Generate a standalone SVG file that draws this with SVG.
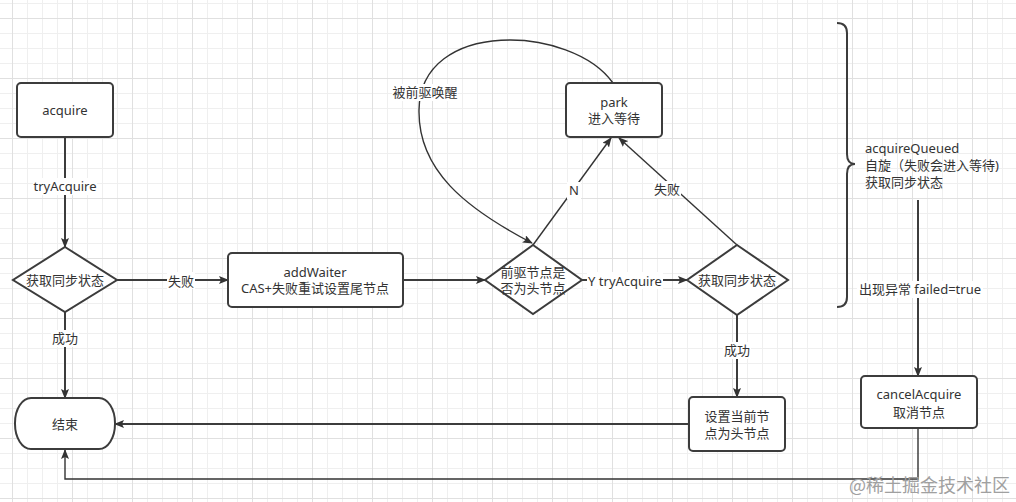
<svg xmlns="http://www.w3.org/2000/svg" width="1016" height="502" viewBox="0 0 1016 502">
<defs>
<pattern id="grid" x="12" y="18" width="60" height="60" patternUnits="userSpaceOnUse">
<path d="M15.5,0V60M30.5,0V60M45.5,0V60M0,15.5H60M0,30.5H60M0,45.5H60" stroke="#efefef" stroke-width="1" fill="none"/>
<path d="M0.5,0V60M0,0.5H60" stroke="#e0e0e0" stroke-width="1" fill="none"/>
</pattern>
<marker id="arr" viewBox="0 0 10 8" refX="9" refY="4" markerWidth="10" markerHeight="8" markerUnits="userSpaceOnUse" orient="auto">
<path d="M0,0 L10,4 L0,8 L2,4 z" fill="#333"/>
</marker>
</defs>
<style>
.node{fill:#fff;stroke:#3c3c3c;stroke-width:2}
.t{font-family:"Noto Sans","Noto Sans CJK SC",sans-serif;font-size:13px;fill:#333;text-anchor:middle;dominant-baseline:central}
.tl{font-family:"Noto Sans","Noto Sans CJK SC",sans-serif;font-size:13px;fill:#333;dominant-baseline:central}
.c{fill:none;stroke:#3c3c3c;stroke-width:2}
.c2{fill:none;stroke:#333;stroke-width:1.4}
.lb{fill:#fff}
</style>
<rect width="1016" height="502" fill="#fff"/>
<rect width="1016" height="502" fill="url(#grid)"/>

<g id="connectors">
<path class="c" d="M65,137V247" marker-end="url(#arr)"/>
<path class="c" d="M117,280H228" marker-end="url(#arr)"/>
<path class="c" d="M65,312V398" marker-end="url(#arr)"/>
<path class="c" d="M403,280H485" marker-end="url(#arr)"/>
<path class="c" d="M582,280H687" marker-end="url(#arr)"/>
<path class="c" d="M737,315V397" marker-end="url(#arr)"/>
<path class="c" d="M689,424H115" marker-end="url(#arr)"/>
<path class="c2" d="M533,245L611,138" marker-end="url(#arr)"/>
<path class="c2" d="M737,245L619,138" marker-end="url(#arr)"/>
<path class="c2" d="M613,83C572,25 420,18 419,110C418,170 465,208 532,243" marker-end="url(#arr)"/>
<path class="c" d="M918,200V376" marker-end="url(#arr)"/>
<path class="c2" d="M918,428V479H65V450" marker-end="url(#arr)"/>
<rect class="lb" x="33" y="178" width="64" height="17"/>
<text class="t" x="65" y="186">tryAcquire</text>
<rect class="lb" x="167" y="272" width="28" height="17"/>
<text class="t" x="181" y="281">失败</text>
<rect class="lb" x="51" y="330" width="28" height="17"/>
<text class="t" x="65" y="338">成功</text>
<rect class="lb" x="587" y="272" width="76" height="17"/>
<text class="t" x="625" y="281">Y tryAcquire</text>
<rect class="lb" x="723" y="342" width="28" height="17"/>
<text class="t" x="737" y="350">成功</text>
<rect class="lb" x="567" y="182" width="14" height="17"/>
<text class="t" x="574" y="190">N</text>
<rect class="lb" x="653" y="181" width="28" height="17"/>
<text class="t" x="667" y="189">失败</text>
<rect class="lb" x="392" y="84" width="66" height="17"/>
<text class="t" x="425" y="92">被前驱唤醒</text>
<rect class="lb" x="857" y="281" width="126" height="17"/>
<text class="t" x="920" y="289">出现异常 failed=true</text>
</g>

<g id="acquire">
<rect class="node" x="17" y="83" width="96" height="54" rx="4"/>
<text class="t" x="65" y="110">acquire</text>
</g>
<g id="check1">
<polygon class="node" points="65,247 117,280 65,312 13,280"/>
<text class="t" x="65" y="280">获取同步状态</text>
</g>
<g id="end">
<rect class="node" x="15" y="398" width="100" height="51" rx="16" ry="25"/>
<text class="t" x="65" y="424">结束</text>
</g>
<g id="addWaiter">
<rect class="node" x="228" y="253" width="175" height="54" rx="4"/>
<text class="t" x="315" y="272">addWaiter</text>
<text class="t" x="315" y="288">CAS+失败重试设置尾节点</text>
</g>
<g id="isHead">
<polygon class="node" points="533,245 582,280 533,314 485,280"/>
<text class="t" x="533" y="272">前驱节点是</text>
<text class="t" x="533" y="288">否为头节点</text>
</g>
<g id="park">
<rect class="node" x="566" y="83" width="96" height="54" rx="4"/>
<text class="t" x="614" y="102">park</text>
<text class="t" x="614" y="118">进入等待</text>
</g>
<g id="check2">
<polygon class="node" points="737,245 788,280 737,315 687,280"/>
<text class="t" x="737" y="280">获取同步状态</text>
</g>
<g id="setHead">
<rect class="node" x="689" y="397" width="96" height="54" rx="4"/>
<text class="t" x="737" y="416">设置当前节</text>
<text class="t" x="737" y="433">点为头节点</text>
</g>
<g id="acquireQueued">
<path d="M837,23Q847,23 847,33V154Q847,164 855,164Q847,164 847,174V297Q847,307 837,307" fill="none" stroke="#3c3c3c" stroke-width="2"/>
<text class="tl" x="865" y="148">acquireQueued</text>
<text class="tl" x="865" y="165">自旋（失败会进入等待)</text>
<text class="tl" x="865" y="182">获取同步状态</text>
</g>
<g id="cancelAcquire">
<rect class="node" x="861" y="376" width="116" height="52" rx="4"/>
<text class="t" x="919" y="394">cancelAcquire</text>
<text class="t" x="919" y="412">取消节点</text>
</g>
<text x="1010" y="492" font-family="'Noto Sans CJK SC',sans-serif" font-size="18" fill="#a0a0a0" text-anchor="end">@稀土掘金技术社区</text>
</svg>
